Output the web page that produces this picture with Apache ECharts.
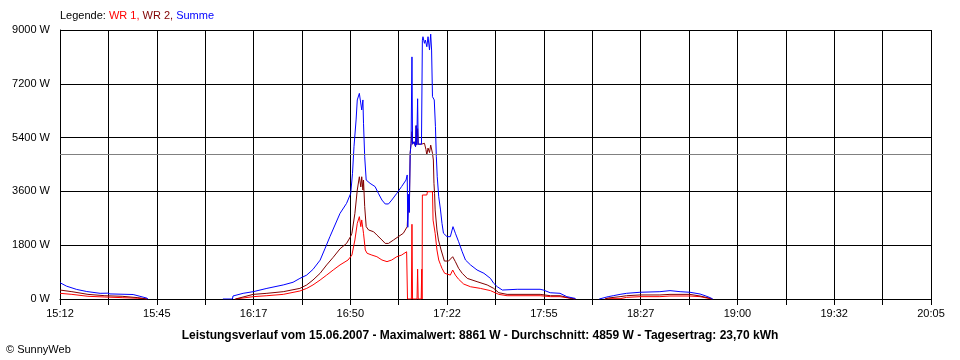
<!DOCTYPE html>
<html><head><meta charset="utf-8">
<script src="https://cdn.jsdelivr.net/npm/echarts@6/dist/echarts.min.js"></script>
<style>html,body{margin:0;padding:0;background:#fff}#c{width:960px;height:360px}</style>
</head><body><div id="c"></div>
<script>
// x values: minutes after 15:12
const tickLabels = ['15:12','15:45','16:17','16:50','17:22','17:55','18:27','19:00','19:32','20:05'];
const spanMinutes = 293;
const gridSteps = 18;
const yMax = 9000;
const yStep = 1800;
const average = 4859;
const titleText = 'Leistungsverlauf vom 15.06.2007 - Maximalwert: 8861 W - Durchschnitt: 4859 W - Tagesertrag: 23,70 kWh';

const wr1 = [[0,190],[4.0,155],[9.4,90],[15.1,67],[20.9,45],[26.2,25],[29.3,0],
[40,null],
[59.0,0],[59.4,20],[65.0,78],[69.6,110],[75.1,155],[80.7,268],[83.0,355],[85.1,470],[87.5,635],[89.7,800],[91.9,970],[94.2,1140],[96.9,1305],[98.2,1470],[99.2,1975],[100.0,2530],[100.7,2755],[101.2,2420],[101.5,2645],[102.1,2200],[102.7,1640],[103.3,1530],[104.9,1470],[106.6,1415],[108.3,1305],[110.0,1250],[111.6,1305],[113.3,1415],[114.9,1470],[116.6,1580],[116.8,1640],[116.9,0],[118.2,0],[118.4,2500],[118.6,0],[120.1,0],[120.3,1000],[120.5,0],[121.5,0],[121.7,1000],[121.8,0],[121.9,3480],[123.4,3480],[123.6,3590],[125.3,3590],[125.5,2640],[125.9,2640],[126.2,2200],[126.8,1640],[127.4,1305],[128.0,1150],[128.5,1025],[129.4,860],[131.3,800],[132.1,970],[133.0,800],[134.1,660],[135.8,500],[138.1,410],[141.4,355],[144.8,280],[147.6,155],[150.4,110],[161.5,110],[165.0,78],[168.2,78],[172.0,20],[173.3,0],
[178,null],
[183.3,0],[184.4,10],[188.4,10],[190.6,55],[195.1,78],[201.8,78],[205.2,100],[211.9,100],[215.3,78],[218.7,10],[219.4,0]];

const wr2 = [[0,300],[4.0,245],[9.4,155],[15.1,110],[20.9,90],[26.2,45],[29.3,0],
[40,null],
[59.0,0],[59.4,45],[65.0,155],[69.6,190],[75.1,245],[80.7,355],[83.0,470],[85.1,635],[87.5,860],[89.7,1140],[91.9,1395],[94.2,1680],[96.4,1860],[97.8,2100],[98.2,2200],[99.2,2865],[100.0,3645],[100.7,4090],[101.2,3750],[101.5,4090],[101.9,3645],[102.1,3980],[102.5,3090],[103.0,2420],[103.8,2310],[105.5,2250],[106.6,2140],[108.3,1975],[109.4,1860],[110.5,1860],[112.2,1975],[113.8,2085],[115.5,2200],[116.8,2420],[117.0,2400],[117.3,3500],[117.5,2900],[117.8,4875],[118.1,5210],[118.4,5600],[118.6,5180],[119.1,5260],[119.6,5095],[119.8,5800],[120.0,5150],[120.3,5700],[120.5,5180],[121.0,5150],[121.6,5180],[121.9,5150],[122.6,5210],[123.1,5000],[123.4,4820],[123.8,5050],[124.3,4900],[124.7,5150],[125.0,5100],[125.3,4875],[125.6,4650],[125.8,3870],[126.0,3535],[126.2,2980],[126.8,2310],[127.3,1975],[128.2,1640],[129.3,1270],[130.7,1270],[132.1,1415],[133.0,1250],[134.1,1025],[135.3,860],[137.0,690],[140.3,580],[143.7,470],[145.9,355],[147.6,210],[150.4,155],[161.5,155],[165.0,110],[168.2,110],[172.0,20],[173.3,0],
[178,null],
[183.3,0],[184.4,33],[188.4,78],[190.6,110],[195.1,135],[201.8,135],[205.2,155],[211.9,155],[215.3,100],[218.7,25],[219.4,0]];

const summe = [[0,545],[2.2,430],[5.6,320],[9.0,250],[13.5,190],[16.1,195],[16.8,170],[24.6,150],[26.9,90],[29.2,30],[29.6,0],
[40,null],
[54.8,0],[58.0,0],[58.2,100],[61.6,190],[65.0,245],[69.6,355],[75.1,470],[78.4,560],[80.7,690],[83.0,800],[85.1,990],[87.5,1300],[89.2,1700],[90.8,2085],[94.2,2865],[96.4,3200],[97.8,3535],[98.4,4205],[98.9,5095],[99.6,5990],[100.0,6660],[100.7,6880],[101.2,6935],[101.5,6325],[101.9,6660],[102.1,5880],[102.5,4760],[103.0,3980],[104.3,3870],[106.0,3760],[107.1,3535],[108.3,3310],[109.4,3180],[110.5,3180],[111.6,3310],[113.3,3535],[114.9,3760],[116.4,3980],[116.8,4150],[117.0,2400],[117.3,3500],[117.5,2900],[117.8,4875],[118.1,5210],[118.4,8100],[118.6,5180],[119.1,5260],[119.6,5095],[119.8,5800],[120.0,5150],[120.3,6700],[120.5,5180],[121.0,5150],[121.6,5180],[121.9,8660],[122.1,8775],[122.6,8555],[122.9,8665],[123.4,8440],[123.8,8775],[124.3,8330],[124.7,8861],[125.0,8330],[125.3,6770],[125.9,6660],[126.3,5765],[126.6,4760],[126.9,4090],[127.4,3420],[128.0,2980],[128.5,2530],[129.0,2200],[130.2,2085],[131.3,2085],[132.2,2420],[133.0,2200],[134.1,1915],[135.3,1580],[136.4,1305],[138.1,1140],[140.3,970],[142.6,860],[144.8,690],[145.9,525],[147.1,410],[148.8,300],[153.8,325],[161.5,325],[162.6,300],[164.9,210],[168.2,190],[170.5,78],[173.3,20],[173.5,0],
[178,null],
[181.4,0],[184.4,78],[186.1,110],[188.4,155],[190.6,190],[195.1,225],[201.8,245],[205.2,280],[208.6,245],[211.9,225],[215.3,167],[217.0,110],[218.7,45],[219.6,0]];

const FONT = '"Liberation Sans", Arial, sans-serif';
const step = spanMinutes / gridSteps;
const chart = echarts.init(document.getElementById('c'), null, {renderer: 'canvas'});
chart.setOption({
  animation: false,
  backgroundColor: '#fff',
  grid: {left: 60, right: 29, top: 30, bottom: 61, containLabel: false},
  xAxis: {
    type: 'value', min: 0, max: spanMinutes, interval: step,
    axisLine: {show: true, lineStyle: {color: '#000', width: 1}},
    axisTick: {show: true, length: 6, lineStyle: {color: '#000', width: 1}},
    splitLine: {show: true, lineStyle: {color: '#000', width: 1}},
    axisLabel: {
      show: true, margin: 9, color: '#000', fontSize: 11, fontFamily: FONT,
      formatter: function (v) {
        const i = Math.round(v / step);
        return i % 2 === 0 ? (tickLabels[i / 2] || '') : '';
      }
    }
  },
  yAxis: {
    type: 'value', min: 0, max: yMax, interval: yStep,
    axisLine: {show: true, lineStyle: {color: '#000', width: 1}},
    axisTick: {show: false},
    splitLine: {show: true, lineStyle: {color: '#000', width: 1}},
    axisLabel: {margin: 10, color: '#000', fontSize: 11, fontFamily: FONT,
      formatter: function (v) { return String(Math.round(v)) + ' W'; }}
  },
  series: [
    {name: 'WR 1', type: 'line', data: wr1, showSymbol: false, symbol: 'none', connectNulls: false,
     lineStyle: {color: '#ff0000', width: 1}, itemStyle: {color: '#ff0000'},
     markLine: {silent: true, symbol: 'none', label: {show: false},
       lineStyle: {color: '#808080', type: 'solid', width: 1},
       data: [{yAxis: average}]}},
    {name: 'WR 2', type: 'line', data: wr2, showSymbol: false, symbol: 'none', connectNulls: false,
     lineStyle: {color: '#800000', width: 1}, itemStyle: {color: '#800000'}},
    {name: 'Summe', type: 'line', data: summe, showSymbol: false, symbol: 'none', connectNulls: false,
     lineStyle: {color: '#0000ff', width: 1}, itemStyle: {color: '#0000ff'}}
  ],
  graphic: [
    {type: 'text', left: 60, top: 10, style: {
      text: '{k|Legende: }{a|WR 1, }{b|WR 2, }{c|Summe}',
      font: '11px ' + FONT,
      rich: {
        k: {fill: '#000', fontSize: 11, fontFamily: FONT},
        a: {fill: '#ff0000', fontSize: 11, fontFamily: FONT},
        b: {fill: '#800000', fontSize: 11, fontFamily: FONT},
        c: {fill: '#0000ff', fontSize: 11, fontFamily: FONT}
      }}},
    {type: 'text', x: 480, y: 336, style: {
      text: titleText, fill: '#000', font: 'bold 12px ' + FONT,
      textAlign: 'center', textVerticalAlign: 'middle'}},
    {type: 'text', x: 6, y: 350, style: {
      text: '\u00A9 SunnyWeb', fill: '#000', font: '11px ' + FONT,
      textAlign: 'left', textVerticalAlign: 'middle'}}
  ]
});
</script></body></html>
